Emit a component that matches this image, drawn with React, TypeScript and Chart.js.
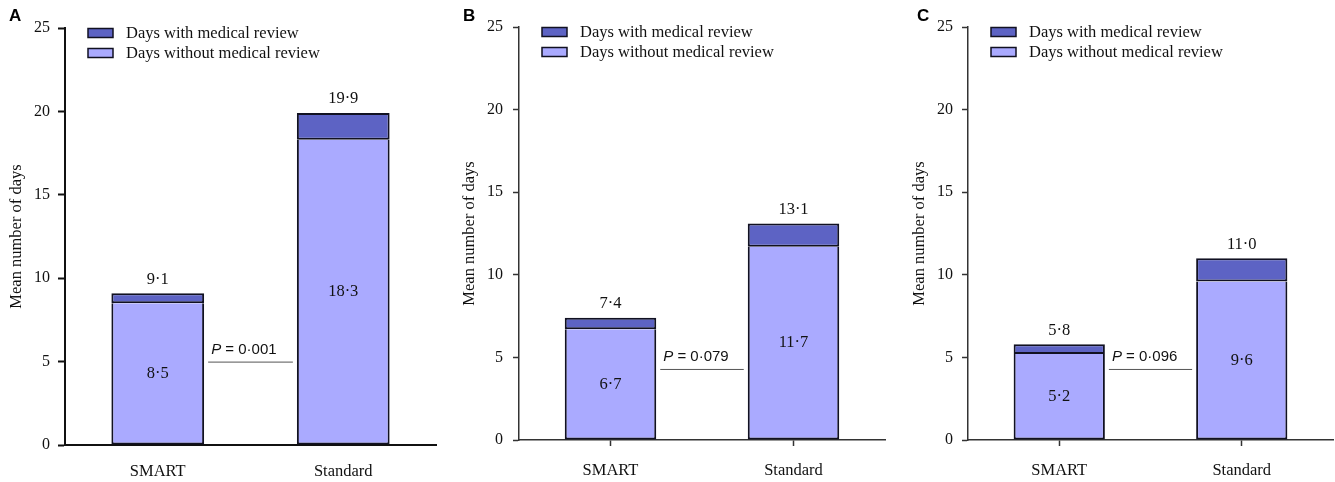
import React, { useEffect, useRef } from 'react';
import { Chart, registerables } from 'chart.js';

Chart.register(...registerables);

// ---- data ----
const categories = ['SMART', 'Standard'];
const seriesWithLabel = 'Days with medical review';
const seriesWithoutLabel = 'Days without medical review';
const withoutA = [8.5, 18.3];
const withA = [0.6, 1.6];
const withoutB = [6.7, 11.7];
const withB = [0.7, 1.4];
const withoutC = [5.2, 9.6];
const withC = [0.6, 1.4];
const pValues = ['0·001', '0·079', '0·096'];
const pLevels = [5.0, 4.3, 4.3];
const yTickValues = [0, 5, 10, 15, 20, 25];
const panelLetters = ['A', 'B', 'C'];
const yTitle = 'Mean number of days';

const DARK = '#5d63c4';
const LIGHT = '#aaaaff';
const EDGE = '#111122';
const SERIF = '"Liberation Serif", "Times New Roman", serif';
const SANS = '"Liberation Sans", Arial, sans-serif';
const FS = 16.5;

const fmt = (v: number) => v.toFixed(1).replace('.', '·');

type PanelCfg = {
  letter: string;
  without: number[];
  withR: number[];
  p: string;
  pLevel: number;
  left: number;
  width: number;
  chartLeft: number;
  chartRight: number;
  top: number;
  bottom: number;
  axisColor: string;
  axisWidth: number;
  xTicks: boolean;
  yTickLen: number;
  yTickPad: number;
  xTickPad: number;
  titlePad: number;
  letterX: number;
};

const HEIGHT = 482;

const panels: PanelCfg[] = [
  {
    letter: panelLetters[0], without: withoutA, withR: withA, p: pValues[0], pLevel: pLevels[0],
    left: 0, width: 450, chartLeft: 65, chartRight: 436, top: 28, bottom: 445,
    axisColor: '#111', axisWidth: 2, xTicks: false, yTickLen: 7, yTickPad: 8, xTickPad: 11, titlePad: 7, letterX: 9,
  },
  {
    letter: panelLetters[1], without: withoutB, withR: withB, p: pValues[1], pLevel: pLevels[1],
    left: 450, width: 450, chartLeft: 69, chartRight: 435, top: 27, bottom: 440,
    axisColor: '#333', axisWidth: 1.5, xTicks: true, yTickLen: 6, yTickPad: 10, xTickPad: 15, titlePad: 10, letterX: 13,
  },
  {
    letter: panelLetters[2], without: withoutC, withR: withC, p: pValues[2], pLevel: pLevels[2],
    left: 900, width: 435, chartLeft: 68, chartRight: 433, top: 27, bottom: 440,
    axisColor: '#333', axisWidth: 1.5, xTicks: true, yTickLen: 6, yTickPad: 9, xTickPad: 15, titlePad: 10, letterX: 17,
  },
];

const decorPlugin = {
  id: 'panelDecor',
  afterDatasetsDraw(chart: any, _args: any, opts: any) {
    const ctx = chart.ctx as CanvasRenderingContext2D;
    const area = chart.chartArea;
    const yScale = chart.scales.y;
    const m0 = chart.getDatasetMeta(0);
    const m1 = chart.getDatasetMeta(1);
    const d0 = chart.data.datasets[0].data as number[];
    const d1 = chart.data.datasets[1].data as number[];
    ctx.save();
    ctx.fillStyle = '#111';
    ctx.textAlign = 'center';
    ctx.textBaseline = 'middle';
    ctx.font = `${FS}px ${SERIF}`;
    for (let i = 0; i < d0.length; i++) {
      const top = m1.data[i];
      const bot = m0.data[i];
      ctx.fillText(fmt(d0[i] + d1[i]), top.x, top.y - 14);
      ctx.fillText(fmt(d0[i]), bot.x, (bot.y + bot.base) / 2);
    }

    // P-value annotation
    const b0 = m0.data[0];
    const b1 = m0.data[1];
    const x0 = b0.x + b0.width / 2 + 4;
    const x1 = b1.x - b1.width / 2 - 4;
    const ly = yScale.getPixelForValue(opts.pLevel);
    ctx.strokeStyle = '#555';
    ctx.lineWidth = 1;
    ctx.beginPath();
    ctx.moveTo(x0, ly + 0.5);
    ctx.lineTo(x1, ly + 0.5);
    ctx.stroke();
    ctx.textAlign = 'left';
    ctx.font = `italic 15px ${SANS}`;
    const tx = x0 + 3;
    const ty = ly - 12;
    ctx.fillText('P', tx, ty);
    const pw = ctx.measureText('P').width;
    ctx.font = `15px ${SANS}`;
    ctx.fillText(' = ' + opts.p, tx + pw, ty);

    // legend
    const items = [
      { label: chart.data.datasets[1].label, color: DARK },
      { label: chart.data.datasets[0].label, color: LIGHT },
    ];
    items.forEach((it, k) => {
      const cy = area.top + 5 + k * 20;
      const bx = area.left + 23;
      ctx.fillStyle = it.color;
      ctx.fillRect(bx, cy - 4.5, 25, 9);
      ctx.strokeStyle = EDGE;
      ctx.lineWidth = 1.5;
      ctx.strokeRect(bx, cy - 4.5, 25, 9);
      ctx.fillStyle = '#111';
      ctx.font = `${FS}px ${SERIF}`;
      ctx.textAlign = 'left';
      ctx.textBaseline = 'middle';
      ctx.fillText(it.label, area.left + 61, cy + 1);
    });

    // panel letter
    ctx.font = `bold 17px ${SANS}`;
    ctx.fillStyle = '#000';
    ctx.textAlign = 'left';
    ctx.textBaseline = 'middle';
    ctx.fillText(opts.letter, opts.letterX, 16);
    ctx.restore();
  },
};

function Panel({ cfg }: { cfg: PanelCfg }) {
  const ref = useRef<HTMLCanvasElement | null>(null);
  useEffect(() => {
    if (!ref.current) return;
    const chart = new Chart(ref.current, {
      type: 'bar',
      data: {
        labels: categories,
        datasets: [
          {
            label: seriesWithoutLabel,
            data: cfg.without,
            backgroundColor: LIGHT,
            borderColor: EDGE,
            borderWidth: 2,
            borderSkipped: 'end',
            categoryPercentage: 0.5,
            barPercentage: 1,
          },
          {
            label: seriesWithLabel,
            data: cfg.withR,
            backgroundColor: DARK,
            borderColor: EDGE,
            borderWidth: 2,
            borderSkipped: false,
            categoryPercentage: 0.5,
            barPercentage: 1,
          },
        ],
      },
      options: {
        responsive: false,
        animation: false,
        events: [],
        layout: {
          padding: { left: 0, right: cfg.width - cfg.chartRight, top: cfg.top, bottom: 0 },
        },
        plugins: {
          legend: { display: false },
          tooltip: { enabled: false },
          panelDecor: { pLevel: cfg.pLevel, p: cfg.p, letter: cfg.letter, letterX: cfg.letterX },
        } as any,
        scales: {
          x: {
            stacked: true,
            afterFit: (s: any) => { s.height = HEIGHT - cfg.bottom; },
            grid: {
              display: true,
              drawOnChartArea: false,
              drawTicks: true,
              offset: false,
              tickLength: 6,
              tickColor: cfg.xTicks ? cfg.axisColor : 'rgba(0,0,0,0)',
              tickWidth: cfg.axisWidth,
            },
            border: { display: true, color: cfg.axisColor, width: cfg.axisWidth },
            ticks: {
              color: '#111',
              font: { family: SERIF, size: FS },
              padding: cfg.xTickPad,
              maxRotation: 0,
            },
          },
          y: {
            stacked: true,
            min: 0,
            max: 25,
            afterFit: (s: any) => { s.width = cfg.chartLeft; },
            afterBuildTicks: (s: any) => { s.ticks = yTickValues.map((v) => ({ value: v })); },
            grid: {
              display: true,
              drawOnChartArea: false,
              drawTicks: true,
              tickLength: cfg.yTickLen,
              tickColor: cfg.axisColor,
              tickWidth: cfg.axisWidth,
            },
            border: { display: true, color: cfg.axisColor, width: cfg.axisWidth },
            ticks: {
              color: '#111',
              font: { family: SERIF, size: 16 },
              padding: cfg.yTickPad,
            },
            title: {
              display: true,
              text: yTitle,
              color: '#111',
              font: { family: SERIF, size: FS },
              padding: { top: cfg.titlePad, bottom: 0 },
            },
          },
        },
      } as any,
      plugins: [decorPlugin],
    });
    return () => chart.destroy();
  }, [cfg]);
  return (
    <div style={{ position: 'absolute', left: cfg.left, top: 0, width: cfg.width, height: HEIGHT }}>
      <canvas ref={ref} width={cfg.width} height={HEIGHT} style={{ width: cfg.width, height: HEIGHT, display: 'block' }} />
    </div>
  );
}

export default function App() {
  return (
    <div style={{ position: 'absolute', left: 0, top: 0, width: 1335, height: HEIGHT, background: '#fff', overflow: 'hidden' }}>
      {panels.map((p) => (
        <Panel key={p.letter} cfg={p} />
      ))}
    </div>
  );
}
